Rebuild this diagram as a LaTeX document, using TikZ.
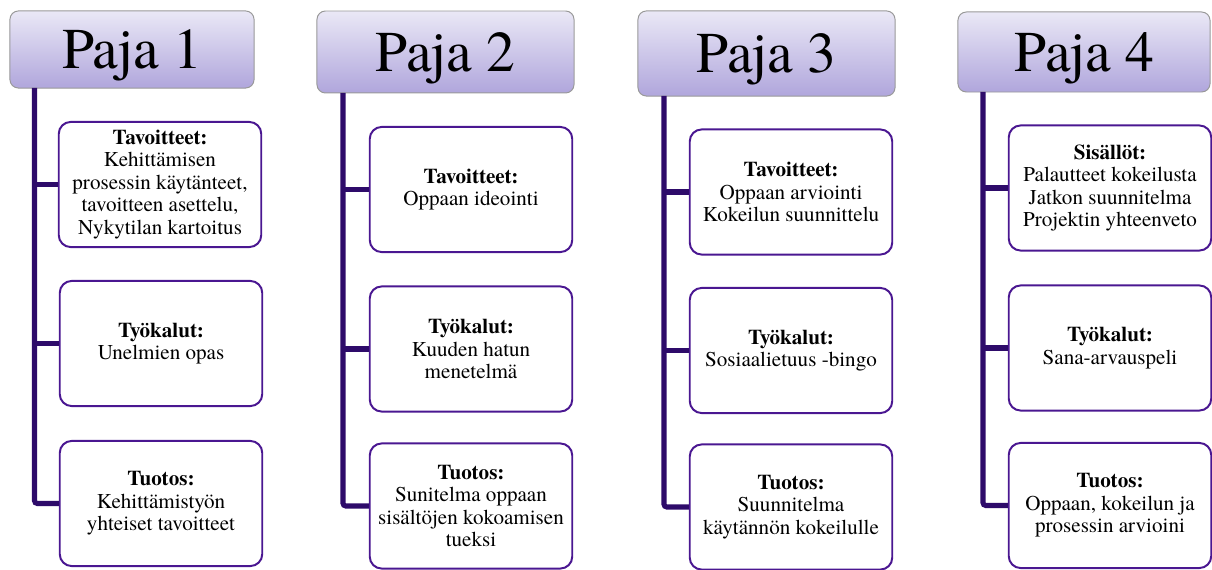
\documentclass[tikz,border=0pt]{standalone}
\usepackage{fontspec}
\setmainfont{texgyretermes}[Extension=.otf, UprightFont=*-regular, BoldFont=*-bold, ItalicFont=*-italic, BoldItalicFont=*-bolditalic]
\definecolor{hdtop}{HTML}{EAE8F6}
\definecolor{hdbot}{HTML}{B0A6DC}
\definecolor{spinecol}{HTML}{2E0B6A}
\definecolor{boxcol}{HTML}{4A1791}

\begin{document}
\begin{tikzpicture}[x=0.025cm, y=-0.025cm,
  paja/.style={draw=gray!80, line width=0.7pt, rounded corners=6pt, top color=hdtop, bottom color=hdbot,
    inner sep=0pt, text depth=0pt, font=\fontsize{41}{42}\selectfont},
  item/.style={draw=boxcol, line width=1.4pt, rounded corners=8.5pt, fill=white, align=center,
    inner sep=2pt, minimum width=144pt, minimum height=89pt, font=\fontsize{15}{16}\selectfont},
  spine/.style={draw=spinecol, line width=3.6pt, rounded corners=2pt}]
\useasboundingbox (0,0) rectangle (1212,570);

\node [paja, minimum width=173.6pt, minimum height=54.8pt] (h1) at (132,49.5) {Paja 1};
\node [paja, minimum width=182.8pt, minimum height=58.3pt] (h2) at (445.5,52) {Paja 2};
\node [paja, minimum width=182.8pt, minimum height=60.5pt] (h3) at (766.5,53.5) {Paja 3};
\node [paja, minimum width=179.3pt, minimum height=56.9pt] (h4) at (1084,52) {Paja 4};

\coordinate (s1) at (34.5,88);
\coordinate (s2) at (343,93);
\coordinate (s3) at (664,96);
\coordinate (s4) at (983,92);

\node [item] (t1) at (160,184.5) {\textbf{Tavoitteet:}\\ Kehittämisen\\ prosessin käytänteet,\\ tavoitteen asettelu,\\ Nykytilan kartoitus};
\node [item] (k1) at (161,343.5) {\textbf{Työkalut:}\\ Unelmien opas};
\node [item] (o1) at (161,503.5) {\textbf{Tuotos:}\\ Kehittämistyön\\ yhteiset tavoitteet};

\node [item] (t2) at (471,189.5) {\textbf{Tavoitteet:}\\ Oppaan ideointi};
\node [item] (k2) at (471,349) {\textbf{Työkalut:}\\ Kuuden hatun\\ menetelmä};
\node [item] (o2) at (471,506) {\textbf{Tuotos:}\\ Sunitelma oppaan\\ sisältöjen kokoamisen\\ tueksi};

\node [item] (t3) at (791,192) {\textbf{Tavoitteet:}\\ Oppaan arviointi\\ Kokeilun suunnittelu};
\node [item] (k3) at (791,350.5) {\textbf{Työkalut:}\\ Sosiaalietuus -bingo};
\node [item] (o3) at (791,507) {\textbf{Tuotos:}\\ Suunnitelma\\ käytännön kokeilulle};

\node [item] (t4) at (1110,188) {\textbf{Sisällöt:}\\ Palautteet kokeilusta\\ Jatkon suunnitelma\\ Projektin yhteenveto};
\node [item] (k4) at (1110,348) {\textbf{Työkalut:}\\ Sana-arvauspeli};
\node [item] (o4) at (1110,505.5) {\textbf{Tuotos:}\\ Oppaan, kokeilun ja\\ prosessin arvioini};

\draw [spine] (s1) |- (o1);
\draw [spine] (s1 |- t1) -- (t1);
\draw [spine] (s1 |- k1) -- (k1);
\draw [spine] (s2) |- (o2);
\draw [spine] (s2 |- t2) -- (t2);
\draw [spine] (s2 |- k2) -- (k2);
\draw [spine] (s3) |- (o3);
\draw [spine] (s3 |- t3) -- (t3);
\draw [spine] (s3 |- k3) -- (k3);
\draw [spine] (s4) |- (o4);
\draw [spine] (s4 |- t4) -- (t4);
\draw [spine] (s4 |- k4) -- (k4);
\end{tikzpicture}
\end{document}
